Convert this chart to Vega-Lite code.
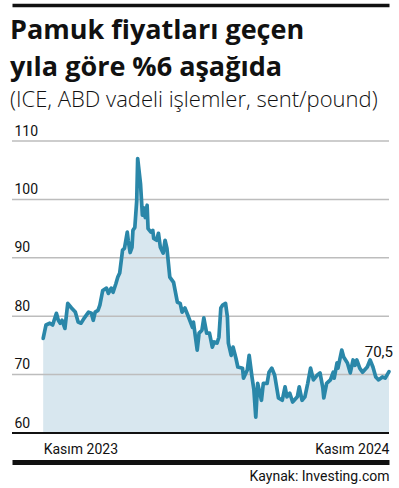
{
  "$schema": "https://vega.github.io/schema/vega-lite/v6.json",
  "width": 377,
  "height": 292,
  "autosize": {"type": "none"},
  "padding": {"left": 12, "top": 141, "right": 10, "bottom": 55},
  "background": "white",
  "config": {"view": {"stroke": null}},
  "title": {
    "text": ["Pamuk fiyatları geçen", "yıla göre %6 aşağıda"],
    "subtitle": "(ICE, ABD vadeli işlemler, sent/pound)",
    "anchor": "start",
    "frame": "group",
    "font": "Open Sans",
    "fontSize": 27,
    "fontWeight": "bold",
    "lineHeight": 37,
    "color": "#111111",
    "subtitleFont": "Open Sans",
    "subtitleFontSize": 22,
    "subtitleFontWeight": 300,
    "subtitleColor": "#111111",
    "subtitlePadding": 8,
    "offset": -107,
    "dx": -2
  },
  "data": {
    "values": [
      {"date": "2023-11-15", "price": 76.2},
      {"date": "2023-11-18", "price": 78.5},
      {"date": "2023-11-22", "price": 78.8},
      {"date": "2023-11-25", "price": 78.5},
      {"date": "2023-11-29", "price": 80.5},
      {"date": "2023-12-01", "price": 79.3},
      {"date": "2023-12-03", "price": 78.8},
      {"date": "2023-12-05", "price": 79.3},
      {"date": "2023-12-08", "price": 77.9},
      {"date": "2023-12-11", "price": 82.2},
      {"date": "2023-12-15", "price": 81.4},
      {"date": "2023-12-19", "price": 80.7},
      {"date": "2023-12-22", "price": 79.0},
      {"date": "2023-12-25", "price": 78.8},
      {"date": "2023-12-29", "price": 79.8},
      {"date": "2024-01-02", "price": 80.7},
      {"date": "2024-01-05", "price": 80.5},
      {"date": "2024-01-07", "price": 79.3},
      {"date": "2024-01-09", "price": 80.7},
      {"date": "2024-01-12", "price": 81.0},
      {"date": "2024-01-14", "price": 81.9},
      {"date": "2024-01-17", "price": 84.4},
      {"date": "2024-01-21", "price": 84.8},
      {"date": "2024-01-23", "price": 83.9},
      {"date": "2024-01-26", "price": 84.8},
      {"date": "2024-01-28", "price": 84.1},
      {"date": "2024-01-31", "price": 85.6},
      {"date": "2024-02-02", "price": 86.7},
      {"date": "2024-02-04", "price": 87.4},
      {"date": "2024-02-07", "price": 91.3},
      {"date": "2024-02-09", "price": 91.6},
      {"date": "2024-02-12", "price": 94.4},
      {"date": "2024-02-13", "price": 93.0},
      {"date": "2024-02-15", "price": 90.9},
      {"date": "2024-02-17", "price": 91.8},
      {"date": "2024-02-18", "price": 94.7},
      {"date": "2024-02-20", "price": 95.2},
      {"date": "2024-02-22", "price": 99.8},
      {"date": "2024-02-23", "price": 107.0},
      {"date": "2024-02-26", "price": 102.7},
      {"date": "2024-02-28", "price": 97.3},
      {"date": "2024-02-29", "price": 98.6},
      {"date": "2024-03-02", "price": 96.9},
      {"date": "2024-03-04", "price": 99.0},
      {"date": "2024-03-05", "price": 95.0},
      {"date": "2024-03-08", "price": 94.4},
      {"date": "2024-03-10", "price": 94.7},
      {"date": "2024-03-11", "price": 93.3},
      {"date": "2024-03-14", "price": 93.0},
      {"date": "2024-03-16", "price": 94.2},
      {"date": "2024-03-18", "price": 91.8},
      {"date": "2024-03-21", "price": 90.8},
      {"date": "2024-03-23", "price": 93.0},
      {"date": "2024-03-25", "price": 91.6},
      {"date": "2024-03-28", "price": 86.7},
      {"date": "2024-04-01", "price": 85.8},
      {"date": "2024-04-05", "price": 82.4},
      {"date": "2024-04-08", "price": 82.2},
      {"date": "2024-04-10", "price": 80.7},
      {"date": "2024-04-13", "price": 81.4},
      {"date": "2024-04-16", "price": 80.2},
      {"date": "2024-04-21", "price": 78.1},
      {"date": "2024-04-22", "price": 79.0},
      {"date": "2024-04-26", "price": 74.2},
      {"date": "2024-04-28", "price": 77.1},
      {"date": "2024-05-01", "price": 77.6},
      {"date": "2024-05-03", "price": 79.7},
      {"date": "2024-05-06", "price": 77.1},
      {"date": "2024-05-09", "price": 77.1},
      {"date": "2024-05-12", "price": 74.7},
      {"date": "2024-05-14", "price": 75.6},
      {"date": "2024-05-17", "price": 75.4},
      {"date": "2024-05-19", "price": 76.4},
      {"date": "2024-05-21", "price": 81.4},
      {"date": "2024-05-23", "price": 81.9},
      {"date": "2024-05-26", "price": 82.2},
      {"date": "2024-05-28", "price": 79.8},
      {"date": "2024-05-29", "price": 75.4},
      {"date": "2024-06-01", "price": 73.3},
      {"date": "2024-06-03", "price": 74.7},
      {"date": "2024-06-06", "price": 72.8},
      {"date": "2024-06-08", "price": 71.3},
      {"date": "2024-06-13", "price": 71.1},
      {"date": "2024-06-14", "price": 69.4},
      {"date": "2024-06-18", "price": 70.8},
      {"date": "2024-06-20", "price": 73.3},
      {"date": "2024-06-23", "price": 69.6},
      {"date": "2024-06-25", "price": 67.4},
      {"date": "2024-06-27", "price": 62.7},
      {"date": "2024-06-29", "price": 68.5},
      {"date": "2024-07-03", "price": 65.6},
      {"date": "2024-07-05", "price": 68.5},
      {"date": "2024-07-09", "price": 68.5},
      {"date": "2024-07-11", "price": 70.4},
      {"date": "2024-07-14", "price": 71.1},
      {"date": "2024-07-17", "price": 69.9},
      {"date": "2024-07-21", "price": 66.0},
      {"date": "2024-07-25", "price": 65.6},
      {"date": "2024-07-28", "price": 67.9},
      {"date": "2024-07-30", "price": 66.2},
      {"date": "2024-08-02", "price": 66.8},
      {"date": "2024-08-05", "price": 65.3},
      {"date": "2024-08-10", "price": 66.2},
      {"date": "2024-08-12", "price": 67.9},
      {"date": "2024-08-15", "price": 65.6},
      {"date": "2024-08-18", "price": 66.2},
      {"date": "2024-08-21", "price": 68.5},
      {"date": "2024-08-24", "price": 71.1},
      {"date": "2024-08-27", "price": 69.1},
      {"date": "2024-08-31", "price": 69.9},
      {"date": "2024-09-03", "price": 70.3},
      {"date": "2024-09-06", "price": 67.7},
      {"date": "2024-09-07", "price": 66.0},
      {"date": "2024-09-10", "price": 68.5},
      {"date": "2024-09-14", "price": 69.1},
      {"date": "2024-09-17", "price": 70.4},
      {"date": "2024-09-18", "price": 69.4},
      {"date": "2024-09-21", "price": 72.0},
      {"date": "2024-09-22", "price": 71.1},
      {"date": "2024-09-26", "price": 74.2},
      {"date": "2024-09-28", "price": 73.0},
      {"date": "2024-10-02", "price": 72.0},
      {"date": "2024-10-05", "price": 70.3},
      {"date": "2024-10-08", "price": 72.5},
      {"date": "2024-10-10", "price": 71.6},
      {"date": "2024-10-12", "price": 72.5},
      {"date": "2024-10-15", "price": 71.1},
      {"date": "2024-10-18", "price": 70.4},
      {"date": "2024-10-23", "price": 71.3},
      {"date": "2024-10-26", "price": 72.5},
      {"date": "2024-10-29", "price": 71.3},
      {"date": "2024-11-01", "price": 69.6},
      {"date": "2024-11-04", "price": 69.1},
      {"date": "2024-11-08", "price": 69.6},
      {"date": "2024-11-11", "price": 69.4},
      {"date": "2024-11-15", "price": 70.5}
    ]
  },
  "resolve": {"axis": {"x": "independent"}},
  "layer": [
    {
      "mark": {"type": "area", "color": "#d8e7ef"},
      "encoding": {
        "x": {
          "field": "date",
          "type": "temporal",
          "scale": {"domain": [{"year": 2023, "month": 10, "date": 13}, {"year": 2024, "month": 11, "date": 15}]},
          "axis": {
            "orient": "bottom",
            "values": [{"year": 2023, "month": 11, "date": 15}, {"year": 2024, "month": 11, "date": 15}],
            "labelExpr": "year(datum.value) < 2024 ? 'Kasım 2023' : 'Kasım 2024'",
            "labelAlign": {"condition": {"test": "year(datum.value) < 2024", "value": "left"}, "value": "right"},
            "grid": false,
            "ticks": false,
            "tickSize": 0,
            "domainColor": "#111111",
            "domainWidth": 5,
            "offset": 29,
            "labelPadding": -9,
            "labelBaseline": "alphabetic",
            "labelFont": "Roboto",
            "labelFontSize": 14,
            "labelColor": "#111111",
            "labelFlush": false,
            "labelOverlap": false,
            "title": "Kaynak: Investing.com",
            "titleAnchor": "end",
            "titleAlign": "right",
            "titleBaseline": "top",
            "titlePadding": 7,
            "titleFont": "Roboto",
            "titleFontSize": 14,
            "titleFontWeight": "normal",
            "titleColor": "#111111"
          }
        },
        "y": {
          "field": "price",
          "type": "quantitative",
          "scale": {"domain": [60, 110], "zero": false, "nice": false},
          "axis": {
            "values": [60, 70, 80, 90, 100, 110],
            "grid": false,
            "domain": false,
            "ticks": false,
            "tickSize": 0,
            "labelAlign": "left",
            "labelPadding": -2,
            "labelBaseline": "alphabetic",
            "labelOffset": -6,
            "labelFont": "Roboto",
            "labelFontSize": 14,
            "labelColor": "#111111",
            "title": null
          }
        },
        "y2": {"datum": 60}
      }
    },
    {
      "data": {"values": [{"g": 60}, {"g": 70}, {"g": 80}, {"g": 90}, {"g": 100}, {"g": 110}]},
      "mark": {"type": "rule"},
      "encoding": {
        "y": {"field": "g", "type": "quantitative"},
        "color": {"condition": {"test": "datum.g == 60", "value": "#111111"}, "value": "#bdbdbd"},
        "strokeWidth": {"condition": {"test": "datum.g == 60", "value": 2}, "value": 1.5}
      }
    },
    {
      "mark": {"type": "line", "color": "#2a87a9", "strokeWidth": 3.7, "strokeJoin": "round", "strokeCap": "round"},
      "encoding": {
        "x": {
          "field": "date",
          "type": "temporal",
          "axis": {
            "orient": "top",
            "offset": 136,
            "labels": false,
            "ticks": false,
            "grid": false,
            "domainColor": "#111111",
            "domainWidth": 3.5,
            "title": null
          }
        },
        "y": {"field": "price", "type": "quantitative"}
      }
    },
    {
      "data": {"values": [{"date": "2024-11-15", "price": 70.5, "label": "70,5"}]},
      "mark": {"type": "text", "align": "right", "baseline": "alphabetic", "dx": 4, "dy": -15, "font": "Roboto", "fontSize": 15, "color": "#111111"},
      "encoding": {
        "x": {"field": "date", "type": "temporal", "axis": null},
        "y": {"field": "price", "type": "quantitative"},
        "text": {"field": "label"}
      }
    }
  ]
}
